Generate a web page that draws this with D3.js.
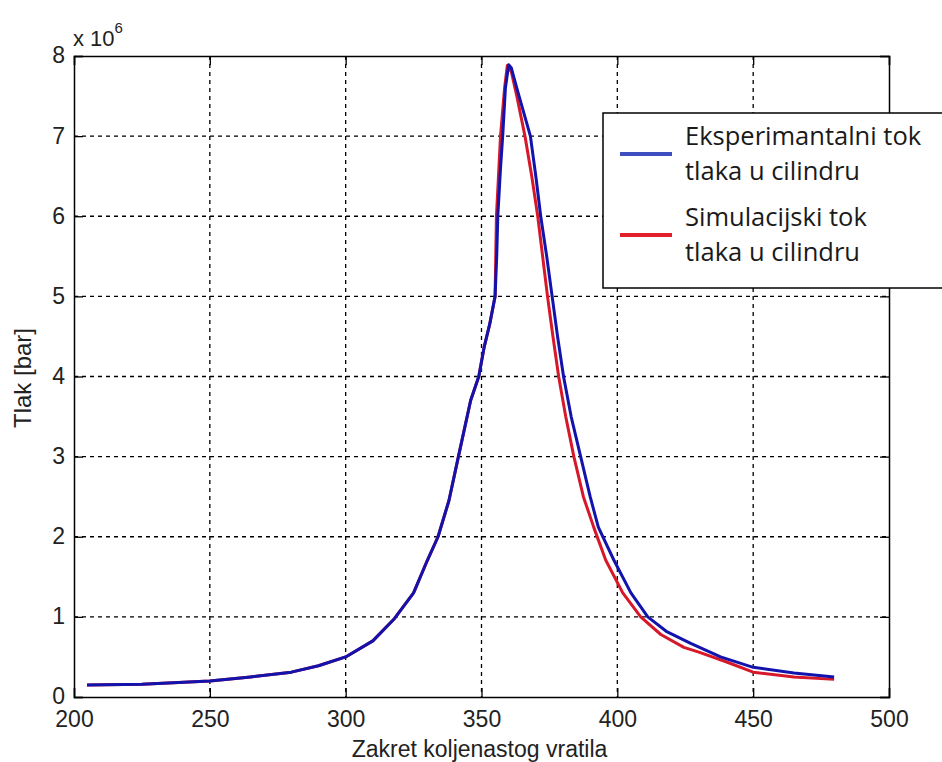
<!DOCTYPE html>
<html>
<head>
<meta charset="utf-8">
<script src="https://cdn.jsdelivr.net/npm/d3@7"></script>
<style>
  body { margin: 0; background: #fff; }
  svg { display: block; }
  .tick text { font-family: "Liberation Sans", Arial, sans-serif; font-size: 23px; fill: #222; }
</style>
</head>
<body>
<svg width="942" height="762"></svg>
<script>
// crank angle (deg) and pressure (x 10^6)
var expAngle = [204.8, 225, 250, 265, 280, 290, 300, 310, 318, 325, 330, 334, 338, 341.5, 346, 349, 351, 353, 355,
    355.6, 356, 357, 357.8, 358.8, 360, 361, 363, 365.5, 368, 370, 371.8, 374, 376, 378, 380.2, 383, 386.5, 390,
    393, 398.7, 405, 411.2, 418, 427, 438, 450, 465, 479.8];
var expP = [0.15, 0.16, 0.20, 0.25, 0.31, 0.39, 0.50, 0.70, 0.98, 1.30, 1.70, 2.00, 2.45, 3.00, 3.70, 4.00, 4.37, 4.65, 5.00,
    5.5, 6.0, 6.6, 7.0, 7.6, 7.89, 7.85, 7.6, 7.3, 7.0, 6.5, 6.0, 5.5, 5.0, 4.5, 4.0, 3.5, 3.0, 2.5,
    2.12, 1.71, 1.30, 1.00, 0.82, 0.67, 0.50, 0.37, 0.30, 0.25];

var simAngle = [204.8, 225, 250, 265, 280, 290, 300, 310, 318, 325, 330, 334, 338, 341.5, 346, 349, 351, 353, 355,
    355.5, 357, 358.5, 359.5, 361, 363, 366, 368.5, 370.7, 372.5, 374.3, 376.3, 378.4, 381, 384, 387.5,
    391.3, 395.7, 402, 408.6, 416, 424.5, 430, 440, 450, 465, 479.8];
var simP = [0.15, 0.16, 0.20, 0.25, 0.31, 0.39, 0.50, 0.70, 0.98, 1.30, 1.70, 2.00, 2.45, 3.00, 3.70, 4.00, 4.37, 4.65, 5.00,
    6.0, 7.0, 7.6, 7.88, 7.8, 7.5, 7.0, 6.5, 6.0, 5.5, 5.0, 4.5, 4.0, 3.5, 3.0, 2.5,
    2.12, 1.71, 1.30, 1.00, 0.78, 0.62, 0.56, 0.44, 0.31, 0.25, 0.22];

var xTicks = [200, 250, 300, 350, 400, 450, 500];
var yTicks = [0, 1, 2, 3, 4, 5, 6, 7, 8];
var legendLabels = [["Eksperimantalni tok", "tlaka u cilindru"], ["Simulacijski tok", "tlaka u cilindru"]];
var legendColors = ["#3f4fbf", "#e2202c"];
var lineColors = ["#1212ac", "#d6182a"];

var marge = { top: 56, bottom: 65, left: 74, right: 53 };
var svg = d3.select("svg");
var width = +svg.attr("width") - marge.left - marge.right;
var height = +svg.attr("height") - marge.top - marge.bottom;
var g = svg.append("g").attr("transform", "translate(" + marge.left + "," + marge.top + ")");

var x = d3.scaleLinear().domain([200, 500]).range([0, width]);
var y = d3.scaleLinear().domain([0, 8]).range([height, 0]);

// dashed grid
g.append("g").selectAll("line")
    .data(xTicks.slice(1, -1))
    .enter().append("line")
    .attr("x1", function (d) { return x(d); }).attr("x2", function (d) { return x(d); })
    .attr("y1", 0).attr("y2", height)
    .style("stroke", "#000").style("stroke-width", 1.3).style("stroke-dasharray", "4,4");
g.append("g").selectAll("line")
    .data(yTicks.slice(1, -1))
    .enter().append("line")
    .attr("y1", function (d) { return y(d); }).attr("y2", function (d) { return y(d); })
    .attr("x1", 0).attr("x2", width)
    .style("stroke", "#000").style("stroke-width", 1.3).style("stroke-dasharray", "4,4");

// axes, ticks inside like matlab
var xAxis = d3.axisBottom(x).tickValues(xTicks).tickSize(-9).tickPadding(13).tickFormat(d3.format("d"));
var yAxis = d3.axisLeft(y).tickValues(yTicks).tickSize(-9).tickPadding(9).tickFormat(d3.format("d"));

g.append("g").attr("transform", "translate(0," + height + ")").call(xAxis);
g.append("g").call(yAxis);
g.append("g").call(d3.axisTop(x).tickValues(xTicks).tickSize(-9).tickFormat(""));
g.append("g").attr("transform", "translate(" + width + ",0)")
    .call(d3.axisRight(y).tickValues(yTicks).tickSize(-9).tickFormat(""));

g.selectAll(".domain").style("stroke", "#000").style("stroke-width", 1.5);
g.selectAll(".tick line").style("stroke", "#000").style("stroke-width", 1.3);
g.selectAll(".tick text").attr("dy", null);
g.selectAll(".tick text").filter(function () { return this.parentNode.parentNode.getAttribute("transform"); })
    .attr("dy", "0.72em");
g.selectAll(".tick text").filter(function () { return !this.parentNode.parentNode.getAttribute("transform"); })
    .attr("dy", "0.3em");

// curves
var line = d3.line()
    .x(function (d) { return x(d[0]); })
    .y(function (d) { return y(d[1]); });

var series = [d3.zip(simAngle, simP), d3.zip(expAngle, expP)];
g.selectAll(".curve")
    .data(series)
    .enter().append("path")
    .attr("class", "curve")
    .attr("d", line)
    .style("fill", "none")
    .style("stroke", function (d, i) { return i === 0 ? lineColors[1] : lineColors[0]; })
    .style("stroke-width", 3)
    .style("stroke-linejoin", "round");

// exponent label
var expo = svg.append("text")
    .attr("x", 73).attr("y", 46)
    .style("font-family", "Liberation Sans, Arial, sans-serif")
    .style("font-size", "22px").style("fill", "#222")
    .text("x 10");
expo.append("tspan").attr("dy", -13).style("font-size", "15px").text("6");

// axis titles
svg.append("text")
    .attr("x", marge.left + width / 2 - 2).attr("y", 757)
    .attr("text-anchor", "middle")
    .style("font-family", "Liberation Sans, Arial, sans-serif")
    .style("font-size", "23px").style("fill", "#222")
    .text("Zakret koljenastog vratila");

svg.append("text")
    .attr("transform", "translate(31,378) rotate(-90)")
    .attr("text-anchor", "middle")
    .style("font-family", "Liberation Sans, Arial, sans-serif")
    .style("font-size", "24px").style("fill", "#222")
    .text("Tlak [bar]");

// legend (sticks out past the right axis)
var lg = svg.append("g").attr("transform", "translate(603,113)");
lg.append("rect")
    .attr("x", 0).attr("y", 0).attr("width", 360).attr("height", 175)
    .style("fill", "#fff").style("stroke", "#000").style("stroke-width", 1.5);

var item = lg.selectAll(".item")
    .data(legendLabels)
    .enter().append("g")
    .attr("class", "item")
    .attr("transform", function (d, i) { return "translate(0," + (i * 81) + ")"; });

item.append("line")
    .attr("x1", 17).attr("x2", 69).attr("y1", 41).attr("y2", 41)
    .style("stroke", function (d, i) { return legendColors[i]; })
    .style("stroke-width", 4);

item.selectAll("text")
    .data(function (d) { return d; })
    .enter().append("text")
    .attr("x", 82)
    .attr("y", function (d, j) { return 32 + j * 35; })
    .style("font-family", "Open Sans, sans-serif")
    .style("font-size", "25.5px").style("fill", "#1a1a1a")
    .text(function (d) { return d; });
</script>
</body>
</html>
